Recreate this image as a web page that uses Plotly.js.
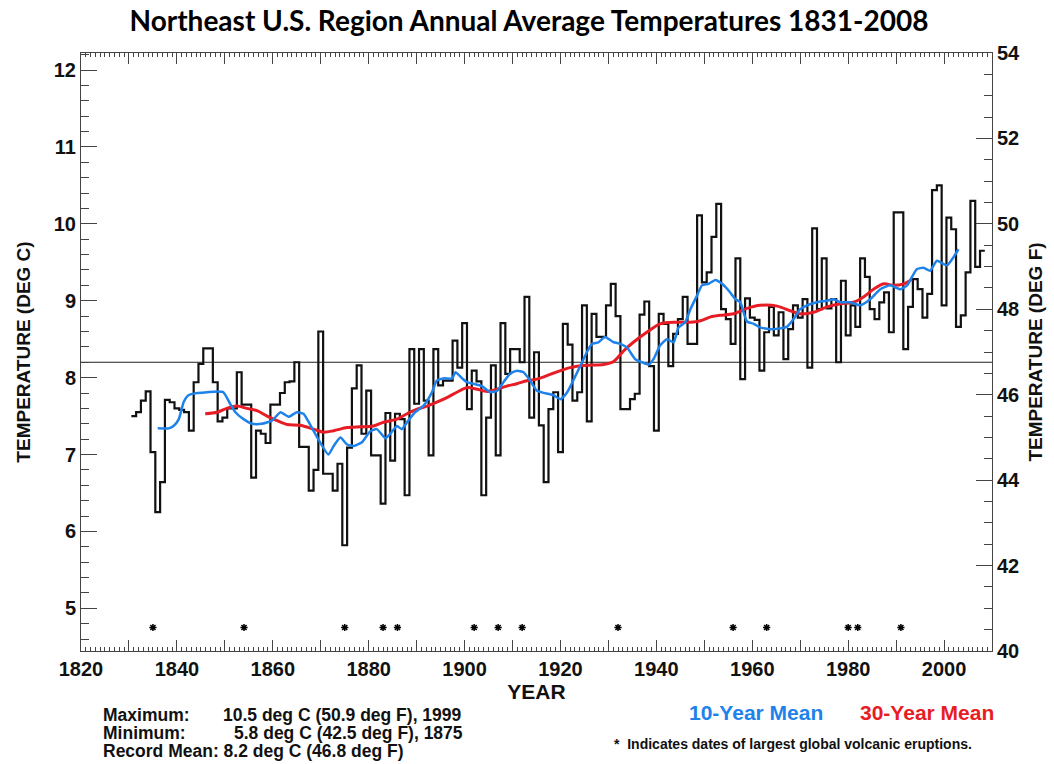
<!DOCTYPE html>
<html><head><meta charset="utf-8">
<script src="https://cdn.plot.ly/plotly-3.0.1.min.js"></script>
<style>html,body{margin:0;padding:0;background:#fff;}#chart{width:1054px;height:764px;}</style>
</head><body><div id="chart"></div>
<script>
// ---------------- data ----------------
const firstYear = 1831;
const annualTempC = [
 7.50, 7.55, 7.70, 7.82, 7.03, 6.25, 6.64, 7.71, 7.68, 7.60,
 7.58, 7.55, 7.31, 7.94, 8.18, 8.38, 8.38, 7.94, 7.43, 7.48,
 7.60, 7.60, 8.07, 7.65, 7.65, 6.70, 7.31, 7.27, 7.15, 7.65,
 7.65, 7.80, 7.94, 7.95, 8.20, 7.10, 7.10, 6.53, 6.80, 8.60,
 6.75, 6.75, 6.53, 6.88, 5.82, 7.09, 7.86, 8.16, 7.27, 7.83,
 6.99, 6.99, 6.36, 7.54, 6.92, 7.53, 7.46, 6.47, 8.37, 7.66,
 8.37, 7.70, 6.99, 8.37, 7.90, 7.96, 7.96, 8.48, 8.13, 8.71,
 7.59, 8.09, 7.95, 6.47, 7.48, 8.16, 6.99, 8.71, 8.05, 8.37,
 8.37, 8.20, 9.05, 7.48, 8.33, 7.38, 6.64, 7.59, 7.81, 7.03,
 8.70, 8.43, 7.70, 7.81, 8.94, 7.43, 8.83, 8.53, 8.53, 8.94,
 9.22, 8.80, 7.59, 7.59, 7.72, 7.79, 8.82, 8.99, 8.15, 7.31,
 8.83, 8.70, 8.15, 8.57, 8.76, 9.05, 8.44, 8.44, 10.11, 9.24,
 9.37, 9.83, 10.26, 8.89, 8.76, 8.44, 9.55, 7.98, 9.03, 8.78,
 8.75, 8.09, 8.59, 8.92, 8.55, 8.85, 8.24, 8.63, 8.94, 8.78,
 9.02, 8.13, 9.94, 8.89, 9.55, 8.90, 9.02, 8.20, 9.26, 8.55,
 8.94, 8.66, 9.55, 9.31, 8.89, 8.76, 8.98, 9.11, 8.59, 10.15,
 10.15, 8.37, 8.92, 9.28, 9.15, 8.78, 9.09, 10.44, 10.50, 8.94,
 10.08, 9.93, 8.66, 8.81, 9.37, 10.30, 9.44, 9.65
];
const years = annualTempC.map((_, i) => firstYear + i);

const mean10Years = [1836,1838.3,1839.3,1840.4,1841.4,1842.4,1844.2,1846.3,1848.4,1849.7,1851.1,1852.2,1853.9,1855.7,1857.7,1859.8,1861.6,1863.3,1865,1866.4,1867.5,1869.2,1871.6,1872.7,1874.1,1875.5,1876.9,1878.6,1880.3,1881.7,1883.5,1884.5,1885.9,1886.9,1888,1889.7,1891.5,1893.2,1894.2,1895.6,1897.4,1898.1,1899.5,1900.5,1901.9,1903.6,1905.4,1906.8,1908.1,1909.5,1910.9,1912.3,1913.7,1915.1,1918.6,1920,1921.4,1923.1,1924.5,1925.5,1926.6,1927.9,1929.3,1931.1,1932.5,1933.9,1935.6,1937,1938.4,1939.4,1940.8,1942.2,1943.6,1944.6,1946,1947.1,1948.5,1949.5,1950.9,1952.3,1953.7,1955.1,1956.5,1957.5,1958.9,1960.3,1961.7,1964.4,1967.2,1968.6,1970,1971.4,1973.5,1975.6,1977,1978.4,1980.4,1982.5,1984.6,1986.7,1988.8,1990.9,1992.3,1994.3,1995.7,1997.1,1998.5,2000.6,2002,2003];
const mean10C = [7.34,7.34,7.37,7.46,7.68,7.77,7.80,7.81,7.82,7.81,7.66,7.55,7.46,7.40,7.40,7.44,7.55,7.49,7.55,7.53,7.42,7.23,7.00,7.11,7.22,7.13,7.11,7.16,7.30,7.33,7.21,7.27,7.37,7.33,7.42,7.55,7.64,7.81,7.96,7.99,7.99,8.07,7.99,7.94,7.92,7.89,7.81,7.83,7.94,8.05,8.09,8.07,7.96,7.83,7.77,7.72,7.81,8.02,8.20,8.33,8.44,8.46,8.53,8.46,8.44,8.39,8.24,8.20,8.17,8.24,8.42,8.50,8.46,8.65,8.72,8.89,9.07,9.20,9.22,9.27,9.22,9.13,9.02,8.98,8.73,8.70,8.65,8.63,8.66,8.76,8.89,8.94,8.98,9.00,9.02,8.98,8.98,8.94,9.02,9.15,9.20,9.15,9.20,9.41,9.43,9.39,9.52,9.46,9.57,9.67];

const mean30Years = [1845.9,1848.4,1850.4,1852.5,1854.6,1856.7,1858.8,1860.9,1863,1865.7,1868.5,1870.6,1872.7,1875.5,1878.2,1881,1883.1,1885.9,1888,1890.1,1892.2,1894.2,1896.3,1898.4,1900.5,1902.6,1904.7,1906.8,1908.8,1910.9,1913,1915.1,1918.6,1922,1925.5,1929,1931.1,1933.2,1935.2,1938,1940.8,1944.2,1947.1,1949.2,1951.3,1953.3,1956.1,1958.9,1961.7,1965.2,1967.9,1970,1972.8,1975.6,1978.4,1981.1,1983.2,1985.3,1987.4,1989.5,1991.6,1993.3];
const mean30C = [7.53,7.55,7.60,7.63,7.60,7.57,7.50,7.44,7.39,7.38,7.33,7.29,7.31,7.35,7.36,7.37,7.42,7.46,7.53,7.59,7.63,7.68,7.74,7.81,7.87,7.85,7.82,7.85,7.89,7.92,7.96,7.98,8.06,8.13,8.16,8.17,8.21,8.35,8.46,8.59,8.70,8.72,8.72,8.74,8.79,8.81,8.83,8.90,8.94,8.93,8.87,8.83,8.85,8.92,8.96,8.98,9.05,9.15,9.22,9.20,9.22,9.28];

const volcanoYears = [1835,1854,1875,1883,1886,1902,1907,1912,1932,1956,1963,1980,1982,1991];
const recordMeanC = 8.2;
const xTickYears = [1820,1830,1840,1850,1860,1870,1880,1890,1900,1910,1920,1930,1940,1950,1960,1970,1980,1990,2000,2010];
const xTickLabels = ['1820','','1840','','1860','','1880','','1900','','1920','','1940','','1960','','1980','','2000',''];
const statLabels = ['Maximum:', 'Minimum:', 'Record Mean: 8.2 deg C (46.8 deg F)'];
const statValues = ['10.5 deg C (50.9 deg F), 1999', '5.8 deg C (42.5 deg F), 1875', ''];

// ---------------- layout helpers ----------------
const W = 1054, H = 764, ML = 81, MR = 62, MT = 53, MB = 113;
const px = x => (x - ML) / (W - ML - MR);
const py = y => (H - MB - y) / (H - MT - MB);
const helv = 'Liberation Sans, Arial, Helvetica, sans-serif';
const axisColor = '#444';
const blue = 'rgb(30,130,235)', red = 'rgb(232,28,36)';

// step edges: each year's value spans year-0.5 .. year+0.5
const stepX = years.map(y => y - 0.5).concat([years[years.length - 1] + 0.5]);
const stepY = annualTempC.concat([annualTempC[annualTempC.length - 1]]);

const traces = [
  {x: [1820, 2010], y: [recordMeanC, recordMeanC], mode: 'lines', line: {color: '#222', width: 1}, hoverinfo: 'skip', showlegend: false},
  {x: stepX, y: stepY, mode: 'lines', line: {shape: 'hv', color: '#111', width: 2.2}, showlegend: false},
  {x: mean30Years, y: mean30C, mode: 'lines', line: {shape: 'spline', smoothing: 0.8, color: red, width: 3}, showlegend: false},
  {x: mean10Years, y: mean10C, mode: 'lines', line: {shape: 'spline', smoothing: 0.5, color: blue, width: 2.5}, showlegend: false},
  {x: volcanoYears, y: volcanoYears.map(() => 4.75), mode: 'markers', marker: {symbol: 'asterisk-open', size: 6, color: '#000', line: {color: '#000', width: 1.5}}, showlegend: false},
  {x: [1820], y: [40], yaxis: 'y2', mode: 'markers', marker: {opacity: 0}, hoverinfo: 'skip', showlegend: false}
];

const tickFont = {family: helv, size: 20, color: '#111', weight: 'bold'};
const titleFont = {family: helv, size: 19, color: '#111', weight: 'bold'};

const annotations = [];
statLabels.forEach((t, i) => {
  annotations.push({text: t, x: px(101), y: py(715 + i * 18), xref: 'paper', yref: 'paper', xanchor: 'left', yanchor: 'middle', showarrow: false, font: {family: helv, size: 17.5, color: '#111', weight: 'bold'}});
});
statValues.forEach((t, i) => {
  if (t) annotations.push({text: t, x: px(i === 0 ? 221 : 232), y: py(715 + i * 18), xref: 'paper', yref: 'paper', xanchor: 'left', yanchor: 'middle', showarrow: false, font: {family: helv, size: 17.5, color: '#111', weight: 'bold'}});
});
annotations.push({text: '10-Year Mean', x: px(687), y: py(712), xref: 'paper', yref: 'paper', xanchor: 'left', yanchor: 'middle', showarrow: false, font: {family: helv, size: 21, color: blue, weight: 'bold'}});
annotations.push({text: '30-Year Mean', x: px(858), y: py(712), xref: 'paper', yref: 'paper', xanchor: 'left', yanchor: 'middle', showarrow: false, font: {family: helv, size: 21, color: red, weight: 'bold'}});
annotations.push({text: '*  Indicates dates of largest global volcanic eruptions.', x: px(612), y: py(744), xref: 'paper', yref: 'paper', xanchor: 'left', yanchor: 'middle', showarrow: false, font: {family: helv, size: 14, color: '#111', weight: 'bold'}});

const layout = {
  width: W, height: H,
  margin: {l: ML, r: MR, t: MT, b: MB, pad: 0},
  paper_bgcolor: '#fff', plot_bgcolor: '#fff',
  title: {text: 'Northeast U.S. Region Annual Average Temperatures 1831-2008', x: px(529), xanchor: 'center', y: 1 - 21 / H, yanchor: 'middle', yref: 'container', xref: 'paper', font: {family: 'Lato, Open Sans, sans-serif', size: 28, color: '#000', weight: 'bold'}},
  xaxis: {
    range: [1820, 2010], tickmode: 'array', tickvals: xTickYears, ticktext: xTickLabels,
    ticks: 'inside', ticklen: 11, tickwidth: 1, tickcolor: axisColor,
    minor: {dtick: 1, tick0: 1820, ticklen: 4, tickwidth: 1, tickcolor: axisColor, ticks: 'inside'},
    showline: true, linecolor: axisColor, linewidth: 1, mirror: 'ticks',
    showgrid: false, zeroline: false, tickfont: tickFont,
    title: {text: 'YEAR', font: {family: helv, size: 21, color: '#111', weight: 'bold'}, standoff: 4}
  },
  yaxis: {
    range: [4.4444, 12.2222], tickmode: 'linear', tick0: 0, dtick: 1,
    ticks: 'inside', ticklen: 16, tickwidth: 1, tickcolor: axisColor,
    minor: {dtick: 0.2, tick0: 0, ticklen: 8, tickwidth: 1, tickcolor: axisColor, ticks: 'inside'},
    showline: true, linecolor: axisColor, linewidth: 1, mirror: false,
    showgrid: false, zeroline: false, tickfont: tickFont,
    title: {text: 'TEMPERATURE (DEG C)', font: titleFont, standoff: 18}
  },
  yaxis2: {
    overlaying: 'y', side: 'right', anchor: 'x',
    range: [40, 54], tickmode: 'linear', tick0: 0, dtick: 2,
    ticks: 'inside', ticklen: 16, tickwidth: 1, tickcolor: axisColor,
    minor: {dtick: 0.5, tick0: 0, ticklen: 8, tickwidth: 1, tickcolor: axisColor, ticks: 'inside'},
    showline: true, linecolor: axisColor, linewidth: 1,
    showgrid: false, zeroline: false, tickfont: tickFont,
    title: {text: 'TEMPERATURE (DEG F)', font: titleFont, standoff: 9}
  },
  annotations: annotations,
  showlegend: false
};

Plotly.newPlot('chart', traces, layout, {displayModeBar: false, staticPlot: true});
</script>
</body></html>
